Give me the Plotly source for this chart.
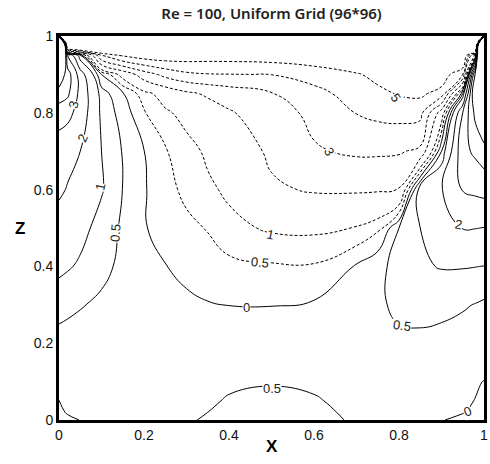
import plotly.graph_objects as go

# grid nodes (X across, Z up)
x_nodes = [0, 0.02, 0.05, 0.1, 0.15, 0.2, 0.25, 0.3, 0.35, 0.4, 0.5, 0.6, 0.7, 0.75, 0.8, 0.85, 0.9, 0.95, 0.98, 1.0]
z_nodes = [0, 0.02, 0.05, 0.1, 0.2, 0.3, 0.4, 0.5, 0.6, 0.7, 0.8, 0.85, 0.9, 0.95, 0.98, 1.0]

# vorticity values, one row per Z node
w_z000 = [-0.1, -0.05, 0.005, 0.2, 0.3, 0.35, 0.4, 0.46, 0.54, 0.62, 0.7, 0.62, 0.45, 0.35, 0.25, 0.1, 0.01, -0.05, -0.06, -0.05]
w_z002 = [-0.05, 0.02, 0.07, 0.2, 0.28, 0.33, 0.38, 0.43, 0.5, 0.58, 0.66, 0.58, 0.43, 0.34, 0.25, 0.12, 0.04, 0.01, -0.04, -0.04]
w_z005 = [-0.005, 0.05, 0.12, 0.2, 0.25, 0.3, 0.34, 0.38, 0.45, 0.53, 0.6, 0.53, 0.4, 0.33, 0.24, 0.15, 0.08, 0.03, -0.005, -0.03]
w_z010 = [0.15, 0.17, 0.2, 0.25, 0.28, 0.3, 0.33, 0.36, 0.4, 0.44, 0.47, 0.44, 0.37, 0.32, 0.3, 0.22, 0.13, 0.07, 0.02, -0.005]
w_z020 = [0.35, 0.33, 0.3, 0.27, 0.25, 0.23, 0.21, 0.2, 0.17, 0.15, 0.14, 0.16, 0.25, 0.33, 0.4, 0.4, 0.35, 0.28, 0.23, 0.2]
w_z030 = [0.65, 0.6, 0.53, 0.42, 0.32, 0.24, 0.17, 0.11, 0.03, -0.005, -0.01, 0.06, 0.25, 0.42, 0.6, 0.65, 0.63, 0.55, 0.48, 0.42]
w_z040 = [1.15, 1.06, 0.92, 0.62, 0.4, 0.2, 0.02, -0.15, -0.28, -0.36, -0.44, -0.45, 0.05, 0.42, 0.6, 0.93, 1.03, 1.03, 1.01, 0.99]
w_z050 = [1.6, 1.42, 1.18, 0.8, 0.42, 0.05, -0.25, -0.38, -0.53, -0.85, -1.08, -1.12, -0.97, -0.65, 0.5, 1.0, 1.8, 2.02, 2.02, 1.98]
w_z060 = [2.15, 1.95, 1.6, 1.05, 0.49, 0.05, -0.33, -0.62, -0.9, -1.1, -1.88, -2.08, -2.1, -2.08, -1.98, 1.4, 1.95, 3.05, 3.2, 3.3]
w_z070 = [2.4, 2.25, 2.0, 1.0, 0.47, 0.01, -0.45, -0.8, -1.1, -1.45, -2.15, -2.9, -3.15, -3.15, -3.1, -2.8, 0.5, 3.7, 4.2, 4.6]
w_z080 = [3.5, 3.3, 2.6, 0.85, 0.3, -0.45, -0.9, -1.2, -1.5, -1.9, -2.55, -3.25, -4.03, -4.25, -4.35, -4.3, -1.5, 3.0, 5.3, 6.5]
w_z085 = [4.5, 4.2, 2.7, 0.75, 0.05, -0.8, -1.3, -1.8, -2.15, -2.45, -2.95, -3.7, -4.4, -4.75, -5.08, -5.2, -4.6, 0.5, 6.5, 10]
w_z090 = [6, 4.5, 2.5, 0.0, -1.3, -2.5, -3.3, -3.8, -3.95, -3.98, -4.02, -4.4, -4.9, -5.3, -5.7, -5.9, -5.7, -4, 5.5, 14]
w_z095 = [12, 3.0, 0.5, -4.0, -5.2, -5.6, -5.7, -5.6, -5.5, -5.5, -5.6, -5.8, -6.3, -6.8, -7.4, -8, -8.5, -7, -1, 25]
w_z098 = [30, -10, -12, -10, -9, -8.2, -7.8, -7.5, -7.3, -7.2, -7.3, -7.7, -8.5, -9.2, -10, -11.5, -13, -16, -15, 40]
w_z100 = [0, -40, -25, -15, -12, -10, -9.5, -9, -8.8, -8.7, -8.7, -9, -10, -11, -12.5, -14, -17, -25, -40, 0]

solid_levels = [0, 0.5, 1, 2, 3, 4, 5]
dashed_levels = [0.5, 1, 2, 3, 4, 5]          # magnitudes of the negative levels

# contour labels as printed on the reference: text, X, Z, angle
label_text = ["3", "2", "1", "0.5", "0", "5", "3", "1", "0.5", "2", "0.5", "0.5", "0"]
label_x = [0.033, 0.055, 0.098, 0.134, 0.442, 0.792, 0.636, 0.498, 0.474, 0.94, 0.808, 0.5, 0.962]
label_z = [0.82, 0.734, 0.607, 0.487, 0.294, 0.839, 0.70, 0.484, 0.411, 0.508, 0.247, 0.082, 0.022]
label_angle = [-75, -65, -78, -85, 0, 55, 60, 12, 6, 10, 8, 0, -22]

tick_vals = [0, 0.2, 0.4, 0.6, 0.8, 1]
tick_text = ["0", "0.2", "0.4", "0.6", "0.8", "1"]

vort = [w_z000, w_z002, w_z005, w_z010, w_z020, w_z030, w_z040, w_z050, w_z060,
        w_z070, w_z080, w_z085, w_z090, w_z095, w_z098, w_z100]
vort_neg = [[-v for v in row] for row in vort]

fig = go.Figure()


def add_level(zz, level, dash):
    fig.add_trace(go.Contour(
        x=x_nodes, y=z_nodes, z=zz,
        autocontour=False,
        contours=dict(start=level, end=level, size=1, coloring="none", showlabels=False),
        line=dict(color="black", width=1, dash=dash, smoothing=1.3),
        showscale=False, hoverinfo="skip",
    ))


for lv in solid_levels:
    add_level(vort, lv, "solid")
for lv in dashed_levels:
    add_level(vort_neg, lv, "3px,2px")

axis_common = dict(
    range=[0, 1], tickvals=tick_vals, ticktext=tick_text,
    showgrid=False, zeroline=False, showline=True, linewidth=3,
    linecolor="black", mirror=True, ticks="",
    tickfont=dict(family="Liberation Sans", size=14, color="#111"),
)

annotations = [
    dict(text=t, x=lx, y=lz, xref="x", yref="y", textangle=a,
         showarrow=False, bgcolor="white", borderpad=0,
         xanchor="center", yanchor="middle",
         font=dict(family="Liberation Sans", size=13, color="#222"))
    for t, lx, lz, a in zip(label_text, label_x, label_z, label_angle)
]
annotations += [
    dict(text="<b>X</b>", x=0.5, y=-0.07, xref="paper", yref="paper",
         xanchor="center", yanchor="middle",
         showarrow=False, font=dict(family="Liberation Sans", size=17, color="black")),
    dict(text="<b>Z</b>", x=-0.091, y=0.5, xref="paper", yref="paper",
         xanchor="center", yanchor="middle",
         showarrow=False, font=dict(family="Liberation Sans", size=17, color="black")),
]

fig.update_layout(
    width=490, height=464,
    margin=dict(l=59, r=3, t=36, b=44),
    paper_bgcolor="white", plot_bgcolor="white",
    showlegend=False,
    title=dict(text="Re = 100, Uniform Grid (96*96)", x=0.5, xref="paper", xanchor="center",
               y=0.97, yanchor="middle",
               font=dict(family="Noto Sans", size=15, color="#222", weight=600)),
    xaxis=axis_common,
    yaxis=axis_common,
    annotations=annotations,
)

fig.write_html("out.html")
